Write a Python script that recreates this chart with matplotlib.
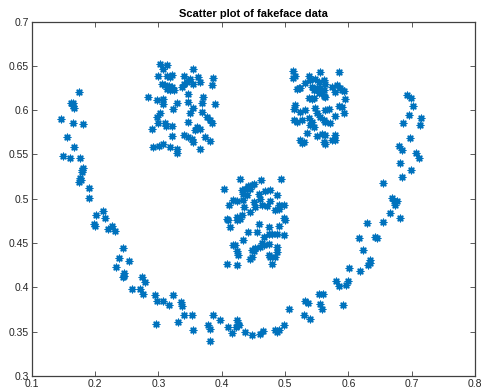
import matplotlib
matplotlib.use("Agg")
import matplotlib.pyplot as plt
import numpy as np

# ---- data (fakeface) ----
left_eye_x = [0.3027,0.3133,0.308,0.3554,0.300,0.313,0.3185,0.321,0.340,0.350,0.3633,0.387,
              0.3054,0.311,0.316,0.321,0.324,0.3185,0.3133,0.340,0.337,0.345,0.3554,0.366,0.3844,
              0.2843,0.2975,0.307,0.308,0.329,0.3475,0.346,0.3686,0.371,0.3897,0.3238,0.350,0.3554,
              0.3686,0.3765,0.3818,0.3844,0.3475,0.2975,0.3027,0.300,0.311,0.3122,0.321,0.2896,
              0.3607,0.366,0.3581,0.340,0.3475,0.3528,0.3554,0.3739,0.3818,0.2922,0.3017,0.308,
              0.3185,0.329,0.330,0.366,0.321]
left_eye_y = [0.652,0.651,0.646,0.646,0.638,0.638,0.637,0.640,0.638,0.635,0.637,0.636,
              0.630,0.628,0.627,0.626,0.623,0.623,0.624,0.630,0.626,0.632,0.630,0.632,0.628,
              0.615,0.6113,0.613,0.6075,0.6083,0.6094,0.618,0.6083,0.6143,0.6075,0.601,0.5963,0.602,
              0.598,0.5925,0.5887,0.5857,0.587,0.5925,0.5963,0.585,0.5857,0.582,0.582,0.5782,
              0.5812,0.5782,0.5775,0.5718,0.570,0.568,0.5643,0.5692,0.5654,0.5587,0.5594,0.5624,
              0.558,0.5557,0.552,0.5557,0.5707]

right_eye_x = [0.5123,0.5123,0.516,0.5556,0.5845,0.5371,0.5397,0.5318,0.5477,0.553,0.561,0.5635,
               0.5213,0.524,0.5187,0.5424,0.545,0.5503,0.5556,0.553,0.5582,0.561,0.574,0.582,0.5872,
               0.590,0.5924,0.5793,0.5371,0.5424,0.545,0.561,0.5635,0.595,0.516,0.5134,0.5318,0.524,
               0.5477,0.5503,0.5635,0.5687,0.5793,0.5845,0.590,0.5924,0.5134,0.5187,0.5266,0.5371,
               0.5424,0.545,0.5397,0.5556,0.561,0.5635,0.5714,0.5345,0.524,0.5266,0.5292,0.5503,
               0.5582,0.5635,0.561,0.5635,0.574,0.5793,0.5793]
right_eye_y = [0.644,0.6365,0.6388,0.6433,0.6433,0.6388,0.634,0.631,0.635,0.632,0.634,0.629,
               0.6253,0.6245,0.624,0.6264,0.6226,0.6245,0.6253,0.619,0.620,0.6226,0.6264,0.628,0.6245,
               0.6226,0.6215,0.621,0.614,0.6125,0.614,0.616,0.615,0.613,0.6057,0.6012,0.600,0.5982,
               0.602,0.5963,0.600,0.601,0.5937,0.605,0.6038,0.5963,0.5888,0.587,0.5888,0.5907,
               0.587,0.5813,0.5831,0.5925,0.5888,0.587,0.585,0.5737,0.5662,0.5625,0.5636,0.5711,
               0.5726,0.5718,0.5643,0.5613,0.5662,0.5718,0.5662]

nose_x = [0.4291,0.4618,0.4934,0.4038,0.4318,0.437,0.4423,0.4476,0.4502,0.445,0.4344,0.4397,
          0.4581,0.4687,0.4766,0.4871,0.4608,0.4186,0.4239,0.4123,0.4344,0.4355,0.4502,0.4529,
          0.4634,0.4713,0.4766,0.4897,0.4976,0.4845,0.4897,0.408,0.4107,0.4239,0.4291,0.4318,
          0.445,0.4239,0.4133,0.4581,0.474,0.4897,0.4976,0.5003,0.4423,0.4555,0.474,0.4792,
          0.4871,0.4976,0.466,0.4344,0.4186,0.4212,0.4634,0.466,0.4608,0.4529,0.4476,0.4502,
          0.474,0.4871,0.4871,0.474,0.4766,0.4792,0.4239,0.4265,0.408,0.4249,0.445,0.4476,0.4845]
nose_y = [0.522,0.521,0.5229,0.5116,0.5097,0.5116,0.5146,0.5153,0.5172,0.5116,0.506,0.5041,
          0.506,0.5086,0.5097,0.5048,0.5003,0.4984,0.4973,0.4928,0.4984,0.491,0.4965,0.491,
          0.4928,0.492,0.4973,0.4935,0.4928,0.4871,0.489,0.4777,0.4759,0.4796,0.4777,0.4815,
          0.4853,0.4759,0.4683,0.4721,0.4683,0.4691,0.4785,0.4759,0.4627,0.4627,0.4608,0.4608,
          0.4608,0.4589,0.457,0.4533,0.4484,0.4477,0.4507,0.4477,0.4458,0.4447,0.442,0.4409,
          0.4495,0.4458,0.4401,0.4371,0.4345,0.427,0.4409,0.4364,0.427,0.4258,0.4326,0.4345,0.4345]

mouth_x = [0.1753,0.1616,0.1658,0.1648,0.1674,0.1458,0.1658,0.1806,0.1563,0.1669,0.150,0.1605,
           0.1764,0.1816,0.179,0.180,0.1764,0.1774,0.1753,0.1911,0.190,0.2122,0.2016,0.2164,
           0.1985,0.2001,0.2264,0.2211,0.2317,0.2443,0.2385,0.2533,0.2333,0.2459,0.2459,0.2449,
           0.258,0.2744,0.2791,0.2712,0.2765,
           0.2948,0.2975,0.308,0.3175,0.3227,0.3354,0.337,0.2964,0.3317,0.3407,0.3528,0.3554,
           0.387,0.3791,0.3818,0.3976,0.3818,0.4092,0.416,0.4239,0.425,0.4229,0.4276,0.4371,
           0.4476,0.4598,0.465,0.4845,0.4872,0.4898,0.4977,0.5056,0.5293,0.5399,0.532,0.5357,
           0.5531,0.560,0.5557,0.5583,
           0.6925,0.6988,0.702,0.6951,0.6862,0.7146,0.7125,0.6978,0.6793,0.6846,0.7073,0.711,
           0.6809,0.6988,0.6851,0.6546,0.6688,0.6714,0.6767,0.6741,0.6662,0.682,0.654,0.6293,
           0.6414,0.6451,0.6161,0.623,0.6345,0.6335,0.6303,0.6177,0.6013,0.5808,0.5845,0.5966,
           0.5992,0.5908]
mouth_y = [0.6207,0.6076,0.6083,0.6046,0.602,0.590,0.585,0.584,0.5692,0.558,0.5482,0.5455,
           0.5455,0.5343,0.5305,0.5324,0.523,0.5211,0.5185,0.5117,0.5012,0.4865,0.4816,0.4786,
           0.4715,0.4696,0.4692,0.4655,0.4636,0.444,0.4327,0.4297,0.4233,0.4158,0.4128,0.4113,
           0.3981,0.4121,0.4061,0.3981,0.3925,
           0.3912,0.3848,0.3844,0.3807,0.3912,0.3837,0.3788,0.3592,0.3611,0.3686,0.3686,0.3525,
           0.3694,0.3573,0.3536,0.363,0.3393,0.3555,0.3491,0.3637,0.3592,0.3555,0.3581,0.3498,
           0.3468,0.348,0.3509,0.3517,0.3498,0.3525,0.3573,0.3761,0.3694,0.3649,0.3848,0.3825,
           0.3923,0.3923,0.3818,0.3761,
           0.617,0.6132,0.6046,0.5944,0.5858,0.5907,0.5831,0.5681,0.5595,0.555,0.5512,0.5455,
           0.5399,0.5324,0.5249,0.5181,0.5004,0.4978,0.4978,0.4929,0.4842,0.4779,0.4733,0.4722,
           0.4572,0.4553,0.4553,0.4421,0.4309,0.4271,0.4252,0.4185,0.4222,0.4072,0.4015,0.4027,
           0.4076,0.3802]

x_ticks = [0.1, 0.2, 0.3, 0.4, 0.5, 0.6, 0.7, 0.8]
y_ticks = [0.3, 0.35, 0.4, 0.45, 0.5, 0.55, 0.6, 0.65, 0.7]
x_labels = ["0.1", "0.2", "0.3", "0.4", "0.5", "0.6", "0.7", "0.8"]
y_labels = ["0.3", "0.35", "0.4", "0.45", "0.5", "0.55", "0.6", "0.65", "0.7"]
title = "Scatter plot of fakeface data"

plt.rcParams['font.family'] = ['Liberation Sans', 'DejaVu Sans']

fig = plt.figure(figsize=(4.84, 3.91), dpi=100)
ax = fig.add_axes([0.0655, 0.038, 0.916, 0.907])

xs = np.concatenate([left_eye_x, right_eye_x, nose_x, mouth_x])
ys = np.concatenate([left_eye_y, right_eye_y, nose_y, mouth_y])
ax.scatter(xs, ys, marker=(8, 2, 0), s=22, c='#0072BD', linewidths=1.0)

ax.set_xlim(0.1, 0.8)
ax.set_ylim(0.3, 0.7)
ax.set_xticks(x_ticks)
ax.set_xticklabels(x_labels)
ax.set_yticks(y_ticks)
ax.set_yticklabels(y_labels)
edge = '#404040'
for s in ax.spines.values():
    s.set_color(edge)
    s.set_linewidth(0.9)
ax.tick_params(direction='in', top=True, right=True, length=3.5, width=0.6,
               color=edge, labelsize=7.5, labelcolor='#262626', pad=2)
ax.set_title(title, fontsize=8, fontweight='bold', pad=3, color='black')

fig.savefig("out.png", dpi=100)
